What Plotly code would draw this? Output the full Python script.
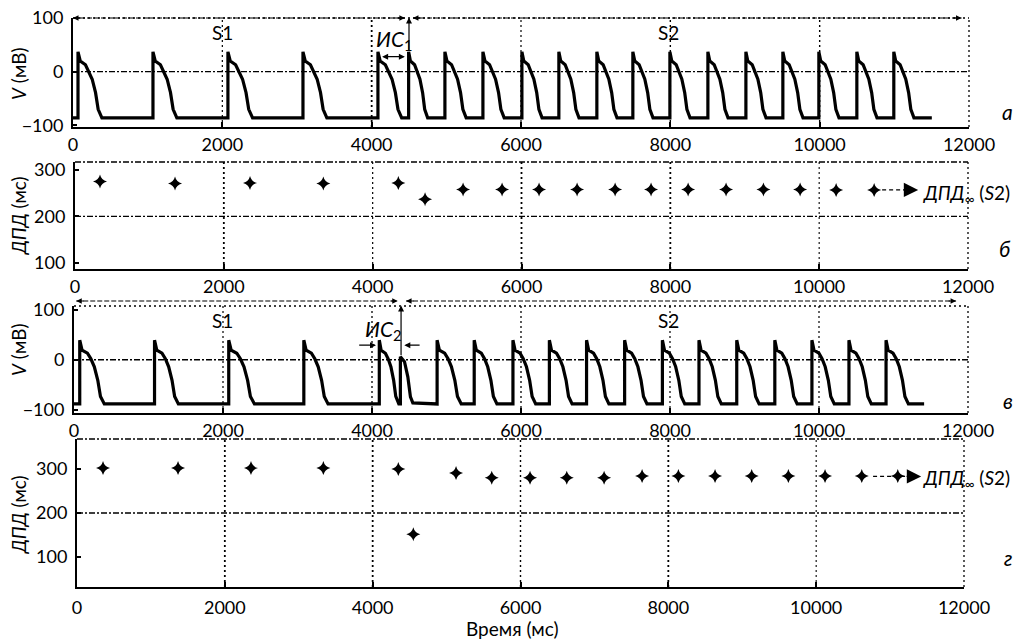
import plotly.graph_objects as go

W, H = 1021, 639

# ---------------- data ----------------
ticks_x = [0, 2000, 4000, 6000, 8000, 10000, 12000]
tick_lbl_x = ["0", "2000", "4000", "6000", "8000", "10000", "12000"]
grid_x = [2000, 4000, 6000, 8000, 10000]
ticks_v = [-100, 0, 100]
tick_lbl_v = ["\u2212100", "0", "100"]
ticks_apd = [100, 200, 300]
tick_lbl_apd = ["100", "200", "300"]

# action-potential shape (ms offset from upstroke, mV) for a beat of 320 ms
ap_off = [0, 0, 30, 100, 145, 190, 235, 270, 320]
ap_v_a = [-86, 37, 20, 13, 1, -14, -39, -70, -86]
ap_v_v = [-88, 39, 19, 13, 2, -14, -41, -73, -88]
# short premature response in panel в
small_off = [0, 0, 55, 100, 135, 167]
small_v = [-88, 6, -4, -34, -74, -86]

# panel а: upstroke times and total beat durations (ms)
onset_a = [67, 1071, 2075, 3080, 4084, 4495, 4981, 5490, 6012, 6507, 7016,
           7498, 7994, 8503, 9012, 9507, 9989, 10498, 10993]
dur_a = [320, 320, 330, 320, 318, 255, 285, 285, 270, 270, 270,
         270, 270, 270, 270, 270, 270, 270, 270]
end_a = 11502

# panel в
onset_v = [77, 1081, 2077, 3085, 4098, 4381, 4874, 5372, 5892, 6381, 6880,
           7391, 7898, 8389, 8896, 9407, 9905, 10402, 10900]
dur_v = [330, 320, 345, 325, 262, 167, 324, 305, 305, 305, 300,
         300, 300, 300, 300, 300, 300, 300, 300]
small_beat_v = 5
end_v = 11411

# panel б: APD points
apd_t_b = [336, 1344, 2352, 3337, 4345, 4704, 5215, 5739, 6236, 6747, 7258,
           7741, 8239, 8749, 9251, 9744, 10228, 10739]
apd_b = [275, 271, 272, 271, 272, 237, 258, 258, 258, 258, 258,
         258, 258, 258, 258, 258, 257, 257]
apd_inf_b = 257

# panel г: APD points
apd_t_g = [352, 1367, 2354, 3333, 4347, 4550, 5128, 5611, 6129, 6626, 7131,
           7645, 8136, 8632, 9128, 9624, 10120, 10617, 11104]
apd_g = [302, 302, 302, 302, 300, 152, 291, 280, 280, 280, 280,
         284, 284, 284, 284, 284, 284, 284, 284]
apd_inf_g = 283

# intervals / annotation positions (ms, mV)
is1 = [4120, 4445]
is1_v = 28
s2_a = 4500
is2_left = [3808, 4054]
is2_right = [4659, 4434]
is2_v = 29
s2_v = 4390


def build_trace(onsets, durs, v_tmpl, end, small_idx=None):
    t, v = [0], [v_tmpl[0]]
    for i, (o, d) in enumerate(zip(onsets, durs)):
        if i == small_idx:
            offs, vals = small_off, small_v
        else:
            offs, vals = ap_off, v_tmpl
        scale = d / offs[-1]
        for off, vv in zip(offs, vals):
            t.append(o + off * scale)
            v.append(vv)
    t.append(end)
    v.append(v_tmpl[-1])
    return t, v


def px(x):
    return x / W


def py(y):
    return 1 - y / H


FONT = "Lato"
BLACK = "black"

fig = go.Figure()

ta, va = build_trace(onset_a, dur_a, ap_v_a, end_a)
tv, vv = build_trace(onset_v, dur_v, ap_v_v, end_v, small_beat_v)

fig.add_trace(go.Scatter(x=ta, y=va, mode="lines", line=dict(color=BLACK, width=3.2),
                         xaxis="x", yaxis="y"))
fig.add_trace(go.Scatter(x=apd_t_b, y=apd_b, mode="markers",
                         marker=dict(symbol="star-diamond", size=10, color=BLACK),
                         xaxis="x2", yaxis="y2"))
fig.add_trace(go.Scatter(x=tv, y=vv, mode="lines", line=dict(color=BLACK, width=3.2),
                         xaxis="x3", yaxis="y3"))
fig.add_trace(go.Scatter(x=apd_t_g, y=apd_g, mode="markers",
                         marker=dict(symbol="star-diamond", size=10, color=BLACK),
                         xaxis="x4", yaxis="y4"))

panels = [
    # (xaxis, yaxis, xdom px, ydom px, yrange, tickvals, ticktext, hgrid, standoff)
    ("x", "y", (73, 969), (127, 18), [-103, 100], ticks_v, tick_lbl_v, 0, 0),
    ("x2", "y2", (75, 968), (269, 162), [87, 317], ticks_apd, tick_lbl_apd, 200, 0),
    ("x3", "y3", (74, 968), (413, 306), [-106, 107], ticks_v, tick_lbl_v, 0, 0),
    ("x4", "y4", (77, 964), (587, 439), [32, 368], ticks_apd, tick_lbl_apd, 200, 3),
]

tickfont = dict(family=FONT, size=18, color=BLACK)
layout = dict(width=W, height=H,
              margin=dict(l=0, r=0, t=0, b=0, pad=0, autoexpand=False),
              paper_bgcolor="white", plot_bgcolor="white", showlegend=False,
              hovermode=False)
shapes = []
annotations = []

DOT = "2px,3px"
DASHDOT = "6px,2px,2px,2px"

for i, (xa, ya, xd, yd, yr, tv_, tt_, hg, so) in enumerate(panels):
    xkey = "xaxis" if xa == "x" else "xaxis" + xa[1:]
    ykey = "yaxis" if ya == "y" else "yaxis" + ya[1:]
    layout[xkey] = dict(domain=[px(xd[0]), px(xd[1])], range=[0, 12000], anchor=ya,
                        tickmode="array", tickvals=ticks_x, ticktext=tick_lbl_x,
                        ticks="inside", ticklen=5, tickwidth=1.5, tickcolor=BLACK,
                        showline=True, linecolor=BLACK, linewidth=2, showgrid=False,
                        zeroline=False, tickfont=tickfont, ticklabelstandoff=so,
                        automargin=False)
    layout[ykey] = dict(domain=[py(yd[0]), py(yd[1])], range=yr, anchor=xa,
                        tickmode="array", tickvals=tv_, ticktext=tt_,
                        ticks="inside", ticklen=4, tickwidth=1.5, tickcolor=BLACK,
                        showline=True, linecolor=BLACK, linewidth=2, showgrid=False,
                        zeroline=False, tickfont=tickfont, ticklabelstandoff=4,
                        automargin=False)
    # vertical grid lines
    widths = [[1.2, 1.8, 1.2, 1.4, 1.4], [1.8, 1.2, 1.8, 1.8, 1.1],
              [1.2, 1.3, 1.3, 1.2, 1.2], [1.8, 1.8, 1.4, 1.8, 1.1]][i]
    for gx, wd in zip(grid_x, widths):
        shapes.append(dict(type="line", xref=xa, yref=ya + " domain", x0=gx, x1=gx,
                           y0=0, y1=1, line=dict(color=BLACK, width=wd, dash=DOT)))
    # right border
    shapes.append(dict(type="line", xref=xa + " domain", yref=ya + " domain", x0=1, x1=1,
                       y0=0, y1=1, line=dict(color=BLACK, width=1.3, dash=DOT)))
    # top border
    shapes.append(dict(type="line", xref=xa + " domain", yref=ya + " domain", x0=0, x1=1,
                       y0=1, y1=1, line=dict(color=BLACK, width=1.3,
                                             dash=DASHDOT if i in (1, 3) else DOT)))
    # horizontal grid line
    shapes.append(dict(type="line", xref=xa + " domain", yref=ya, x0=0, x1=1,
                       y0=hg, y1=hg, line=dict(color=BLACK, width=1.3, dash=DASHDOT)))


def arrowhead(xref, x, ypaper, direction):
    annotations.append(dict(xref=xref, yref="paper", x=x, y=ypaper, ax=-9 * direction, ay=0,
                            text="", showarrow=True, arrowhead=2, arrowsize=1,
                            arrowwidth=1.1, arrowcolor=BLACK))


# S1 / S2 range arrows at the top of panels а and в
for xa, ypix, segs in [("x", 18, [(0, 4445), (4553, 11900)]),
                       ("x3", 301, [(30, 4346), (4457, 11840)])]:
    for x0, x1 in segs:
        shapes.append(dict(type="line", xref=xa, yref="paper", x0=x0, x1=x1,
                           y0=py(ypix), y1=py(ypix),
                           line=dict(color=BLACK, width=1.1, dash="5px,2px")))
        arrowhead(xa, x0, py(ypix), -1)
        arrowhead(xa, x1, py(ypix), 1)

# ИС1 in panel а
annotations.append(dict(xref="x", yref="y", axref="x", ayref="y", x=is1[1], y=is1_v,
                        ax=is1[0], ay=is1_v, text="", showarrow=True, arrowside="end+start",
                        arrowhead=2, arrowsize=1, arrowwidth=1.2, arrowcolor=BLACK))
annotations.append(dict(xref="x", yref="y", axref="x", ayref="y", x=s2_a, y=101,
                        ax=s2_a, ay=37, text="", showarrow=True,
                        arrowhead=2, arrowsize=1, arrowwidth=1.2, arrowcolor=BLACK))
# ИС2 in panel в
annotations.append(dict(xref="x3", yref="y3", axref="x3", ayref="y3", x=is2_left[1], y=is2_v,
                        ax=is2_left[0], ay=is2_v, text="", showarrow=True,
                        arrowhead=2, arrowsize=1, arrowwidth=1.2, arrowcolor=BLACK))
annotations.append(dict(xref="x3", yref="y3", axref="x3", ayref="y3", x=is2_right[1], y=is2_v,
                        ax=is2_right[0], ay=is2_v, text="", showarrow=True,
                        arrowhead=2, arrowsize=1, arrowwidth=1.2, arrowcolor=BLACK))
annotations.append(dict(xref="x3", yref="y3", axref="x3", ayref="y3", x=s2_v, y=108,
                        ax=s2_v, ay=6, text="", showarrow=True,
                        arrowhead=2, arrowsize=1, arrowwidth=1.2, arrowcolor=BLACK))

# ДПД∞ arrows
for xa, ya, x0, x1, yv in [("x2", "y2", 10846, 11330, apd_inf_b),
                           ("x4", "y4", 10770, 11420, apd_inf_g)]:
    shapes.append(dict(type="line", xref=xa, yref=ya, x0=x0, x1=x1 - 150, y0=yv, y1=yv,
                       line=dict(color=BLACK, width=1.2, dash="4px,3px")))
    annotations.append(dict(xref=xa, yref=ya, x=x1, y=yv, ax=-16, ay=0, text="",
                            showarrow=True, arrowhead=2, arrowsize=2.2, arrowwidth=1.3,
                            arrowcolor=BLACK))


def text(xp, yp, s, size=19, xanchor="center", angle=0):
    annotations.append(dict(xref="paper", yref="paper", x=px(xp), y=py(yp), text=s,
                            showarrow=False, xanchor=xanchor, yanchor="middle",
                            textangle=angle,
                            font=dict(family=FONT, size=size, color=BLACK)))


text(222, 33, "S1")
text(668, 33, "S2")
text(222, 320, "S1")
text(668, 320, "S2")
text(374, 40, "<i>ИС</i><sub>1</sub>", size=21, xanchor="left")
text(363, 330, "<i>ИС</i><sub>2</sub>", size=21, xanchor="left")
text(921, 194, "<i>ДПД</i><sub>∞</sub> (<i>S</i>2)", size=19, xanchor="left")
text(921, 479, "<i>ДПД</i><sub>∞</sub> (<i>S</i>2)", size=19, xanchor="left")

text(18, 74, "<i>V</i> (мВ)", angle=-90)
text(18, 216, "<i>ДПД</i> (мс)", angle=-90)
text(18, 350, "<i>V</i> (мВ)", angle=-90)
text(18, 515, "<i>ДПД</i> (мс)", angle=-90)
text(512, 628, "Время (мс)")

text(1007, 112, "<i>а</i>", size=21)
text(1005, 248, "<i>б</i>", size=21)
text(1008, 400, "<i>в</i>", size=21)
text(1008, 557, "<i>г</i>", size=21)

layout["shapes"] = shapes
layout["annotations"] = annotations
fig.update_layout(**layout)
fig.write_html("out.html")
